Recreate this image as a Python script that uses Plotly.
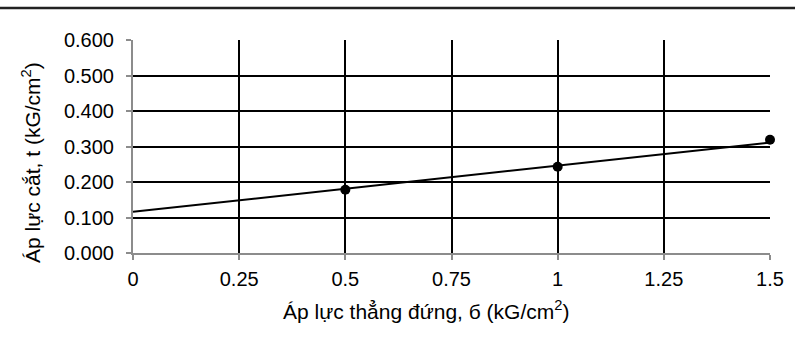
import plotly.graph_objects as go

# measured points
sigma = [0.5, 1.0, 1.5]
tau = [0.178, 0.243, 0.319]

# linear trend line endpoints
trend_x = [0, 1.5]
trend_y = [0.116, 0.311]

x_ticks = [0, 0.25, 0.5, 0.75, 1, 1.25, 1.5]
x_labels = ['0', '0.25', '0.5', '0.75', '1', '1.25', '1.5']
y_ticks = [0, 0.1, 0.2, 0.3, 0.4, 0.5, 0.6]

FONT = 'Liberation Sans, Arial, sans-serif'

fig = go.Figure()
fig.add_trace(go.Scatter(x=trend_x, y=trend_y, mode='lines',
                         line=dict(color='black', width=2), showlegend=False))
fig.add_trace(go.Scatter(x=sigma, y=tau, mode='markers', cliponaxis=False,
                         marker=dict(color='black', size=10), showlegend=False))

W, H = 795, 342
L, R, T, B = 133, 25, 40, 89
pw, ph = W - L - R, H - T - B

# rule across the top of the page
fig.add_shape(type='line', xref='paper', yref='paper',
              x0=-L / pw, x1=1 + R / pw, y0=1 + 32 / ph, y1=1 + 32 / ph,
              line=dict(color='#222', width=2.5))

# axis titles (placed as in the original, slightly off-centre)
fig.add_annotation(text='Áp lực thẳng đứng, б (kG/cm<sup>2</sup>)',
                   xref='paper', yref='paper', x=(426 - L) / pw, y=-(310 - T - ph) / ph,
                   xanchor='center', yanchor='middle', showarrow=False,
                   font=dict(size=21))
fig.add_annotation(text='Áp lực cắt, t (kG/cm<sup>2</sup>)', textangle=-90,
                   xref='paper', yref='paper', x=(31 - L) / pw, y=(H - B - 163) / ph,
                   xanchor='center', yanchor='middle', showarrow=False,
                   font=dict(size=21))

axis_style = dict(showgrid=True, gridcolor='black', gridwidth=2,
                  showline=True, linecolor='#8c8c8c', linewidth=2,
                  ticks='outside', tickcolor='#8c8c8c', ticklen=5, tickwidth=2,
                  zeroline=False, tickfont=dict(size=20))

fig.update_layout(
    width=W, height=H,
    margin=dict(l=L, r=R, t=T, b=B),
    plot_bgcolor='white', paper_bgcolor='white',
    font=dict(family=FONT, size=20, color='black'),
    xaxis=dict(range=[0, 1.5], tickvals=x_ticks, ticktext=x_labels,
               ticklabelstandoff=2, **axis_style),
    yaxis=dict(range=[0, 0.6], tickvals=y_ticks, tickformat='.3f',
               ticklabelstandoff=8, **axis_style),
)

fig.write_html("out.html", config={'displayModeBar': False},
               post_script="document.body.style.margin='0';")
